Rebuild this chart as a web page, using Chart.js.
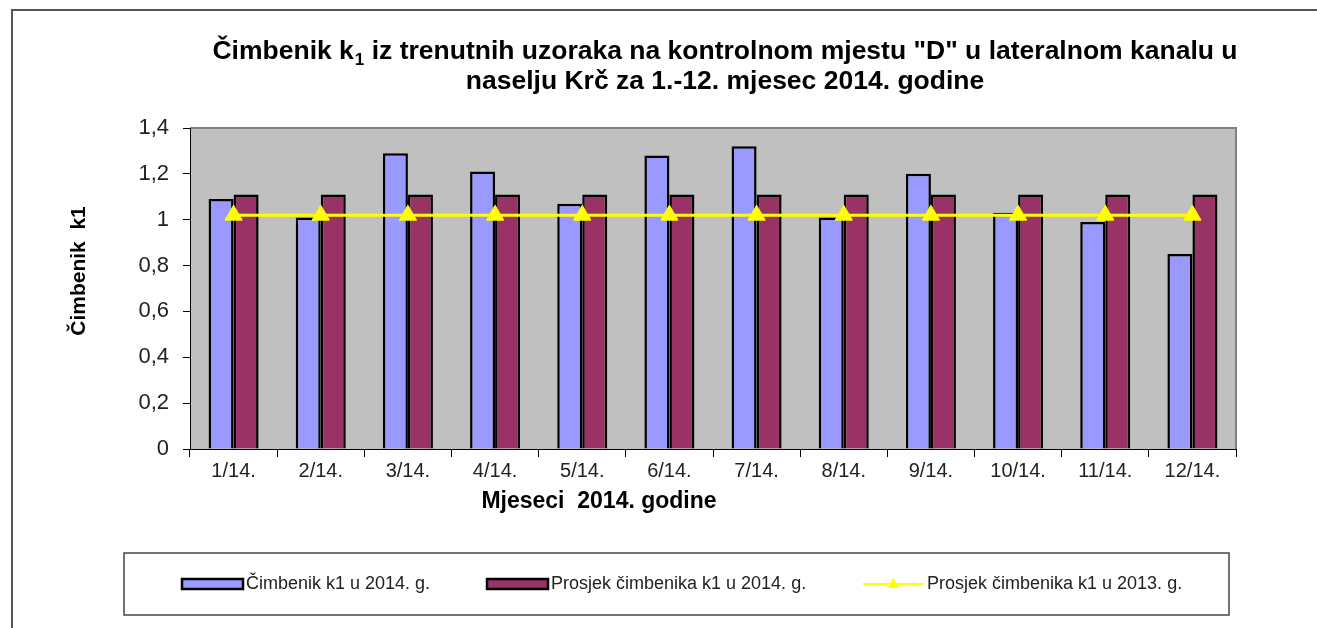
<!DOCTYPE html>
<html>
<head>
<meta charset="utf-8">
<script src="https://cdn.jsdelivr.net/npm/chart.js@4"></script>
<style>
  html, body { margin: 0; padding: 0; background: #fff; }
  #wrap { width: 1317px; height: 628px; }
</style>
</head>
<body>
<div id="wrap"><canvas id="chart"></canvas></div>
<script>
// data
const months = ["1/14.", "2/14.", "3/14.", "4/14.", "5/14.", "6/14.", "7/14.", "8/14.", "9/14.", "10/14.", "11/14.", "12/14."];
const k1_2014  = [1.09, 1.01, 1.29, 1.21, 1.07, 1.28, 1.32, 1.01, 1.20, 1.03, 0.99, 0.85];
const avg_2014 = [1.11, 1.11, 1.11, 1.11, 1.11, 1.11, 1.11, 1.11, 1.11, 1.11, 1.11, 1.11];
const avg_2013 = [1.02, 1.02, 1.02, 1.02, 1.02, 1.02, 1.02, 1.02, 1.02, 1.02, 1.02, 1.02];
const seriesLabels = ["Čimbenik k1 u 2014. g.", "Prosjek čimbenika k1 u 2014. g.", "Prosjek čimbenika k1 u 2013. g."];

const titleLine1 = ["Čimbenik k", "1", " iz trenutnih uzoraka na kontrolnom mjestu \"D\" u lateralnom kanalu u"];
const titleLine2 = "naselju Krč za 1.-12. mjesec 2014. godine";
const xTitle = "Mjeseci  2014. godine";
const yTitle = "Čimbenik  k1";

const FONT = "'Liberation Sans', Arial, sans-serif";

// ── layout of the hand-drawn bits ─────────────────────
const AREA = { left: 190, right: 1236, top: 128, bottom: 449 };
const LEGEND_BOX = { x1: 124, y1: 553, x2: 1229, y2: 615 };
const LEGEND_X = [182, 487, 863]; // swatch starts
const SWATCH_W = 61;

const decor = {
  id: "decor",
  beforeDraw(chart) {
    const { ctx, chartArea: a } = chart;
    ctx.save();
    ctx.fillStyle = "#fff";
    ctx.fillRect(0, 0, chart.width, chart.height);
    // outer frame
    ctx.strokeStyle = "#555";
    ctx.lineWidth = 2;
    ctx.beginPath();
    ctx.moveTo(12, chart.height + 5);
    ctx.lineTo(12, 10);
    ctx.lineTo(chart.width + 5, 10);
    ctx.stroke();
    // plot background
    ctx.fillStyle = "#c0c0c0";
    ctx.fillRect(a.left, a.top, a.right - a.left, a.bottom - a.top);
    ctx.strokeStyle = "#808080";
    ctx.beginPath();
    ctx.moveTo(a.left, a.top);
    ctx.lineTo(a.right, a.top);
    ctx.lineTo(a.right, a.bottom);
    ctx.stroke();
    ctx.restore();
  },
  afterDraw(chart) {
    const { ctx } = chart;
    ctx.save();
    ctx.fillStyle = "#000";
    ctx.textBaseline = "alphabetic";

    // title with subscript
    const big = "bold 26.5px " + FONT, small = "bold 17px " + FONT;
    ctx.font = big;
    const w0 = ctx.measureText(titleLine1[0]).width;
    const w2 = ctx.measureText(titleLine1[2]).width;
    ctx.font = small;
    const w1 = ctx.measureText(titleLine1[1]).width;
    let x = 725 - (w0 + w1 + w2 + 1) / 2;
    ctx.textAlign = "left";
    ctx.font = big;   ctx.fillText(titleLine1[0], x, 59); x += w0;
    ctx.font = small; ctx.fillText(titleLine1[1], x + 1, 65); x += w1 + 1;
    ctx.font = big;   ctx.fillText(titleLine1[2], x, 59);
    ctx.textAlign = "center";
    ctx.fillText(titleLine2, 725, 89);

    // axis titles
    ctx.font = "bold 23px " + FONT;
    ctx.fillText(xTitle, 599, 508);
    ctx.font = "bold 21px " + FONT;
    ctx.save();
    ctx.translate(85, 271);
    ctx.rotate(-Math.PI / 2);
    ctx.fillText(yTitle, 0, 0);
    ctx.restore();

    // legend
    const b = LEGEND_BOX;
    ctx.strokeStyle = "#444";
    ctx.lineWidth = 1.5;
    ctx.strokeRect(b.x1, b.y1, b.x2 - b.x1, b.y2 - b.y1);
    const cy = (b.y1 + b.y2) / 2;
    ctx.font = "18px " + FONT;
    ctx.textAlign = "left";
    ctx.textBaseline = "middle";
    chart.data.datasets.forEach((ds, i) => {
      const sx = LEGEND_X[i];
      if (ds.type === "line") {
        ctx.strokeStyle = ds.borderColor;
        ctx.lineWidth = 2;
        ctx.beginPath();
        ctx.moveTo(sx, cy); ctx.lineTo(sx + SWATCH_W, cy);
        ctx.stroke();
        const mx = sx + SWATCH_W / 2;
        ctx.fillStyle = ds.pointBackgroundColor;
        ctx.beginPath();
        ctx.moveTo(mx, cy - 6); ctx.lineTo(mx + 6, cy + 4); ctx.lineTo(mx - 6, cy + 4);
        ctx.closePath(); ctx.fill();
      } else {
        ctx.fillStyle = ds.backgroundColor;
        ctx.fillRect(sx, cy - 5, SWATCH_W, 10);
        ctx.strokeStyle = "#000";
        ctx.lineWidth = 2.5;
        ctx.strokeRect(sx, cy - 5, SWATCH_W, 10);
      }
      ctx.fillStyle = "#222";
      ctx.fillText(ds.label, sx + SWATCH_W + 3, cy);
    });
    ctx.restore();
  }
};

new Chart(document.getElementById("chart"), {
  type: "bar",
  data: {
    labels: months,
    datasets: [
      { label: seriesLabels[0], data: k1_2014, backgroundColor: "#9999ff", borderColor: "#000", borderWidth: 2.5, order: 2 },
      { label: seriesLabels[1], data: avg_2014, backgroundColor: "#993366", borderColor: "#000", borderWidth: 2.5, order: 2 },
      { label: seriesLabels[2], data: avg_2013, type: "line", borderColor: "#ffff00", borderWidth: 3,
        pointStyle: "triangle", pointRadius: 10, pointBackgroundColor: "#ffff00", pointBorderColor: "#ffff00",
        pointBorderWidth: 1, fill: false, tension: 0, order: 0 }
    ]
  },
  options: {
    responsive: true,
    maintainAspectRatio: false,
    animation: false,
    categoryPercentage: 0.574,
    barPercentage: 1,
    layout: { padding: { left: 0, top: AREA.top, right: 1317 - AREA.right, bottom: 0 } },
    plugins: {
      legend: { display: false },
      title: { display: false },
      tooltip: { enabled: false }
    },
    scales: {
      x: {
        grid: { display: true, drawOnChartArea: false, tickLength: 8, color: "#000", offset: true },
        border: { color: "#000", width: 1 },
        ticks: { color: "#222", font: { family: FONT, size: 20 }, padding: 2, maxRotation: 0 },
        afterFit: s => { s.height = 628 - AREA.bottom; }
      },
      y: {
        min: 0, max: 1.4,
        grid: { display: true, drawOnChartArea: false, tickLength: 7, color: "#000" },
        border: { color: "#000", width: 1 },
        ticks: {
          stepSize: 0.2, color: "#222", padding: 14,
          font: { family: FONT, size: 22 },
          callback: v => String(Math.round(v * 10) / 10).replace(".", ",")
        },
        afterFit: s => { s.width = AREA.left; }
      }
    }
  },
  plugins: [decor]
});
</script>
</body>
</html>
